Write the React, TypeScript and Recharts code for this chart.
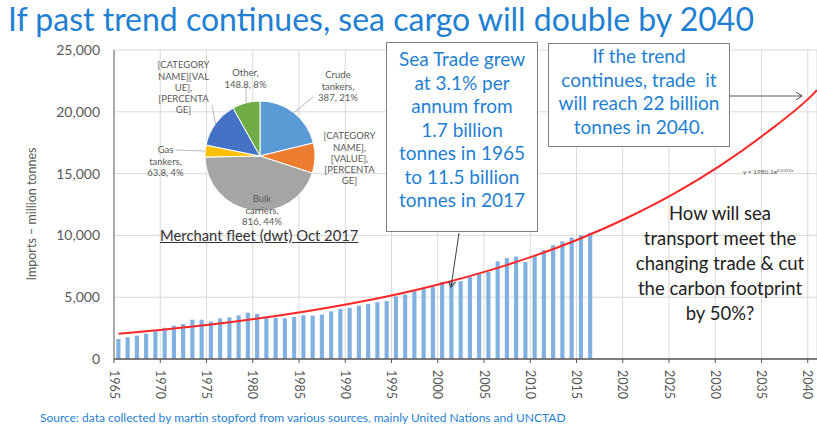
import { Bar, CartesianGrid, Cell, ComposedChart, Line, Pie, PieChart, XAxis, YAxis } from "recharts";

// Seaborne imports, million tonnes
const years = [
  1965, 1966, 1967, 1968, 1969, 1970, 1971, 1972, 1973, 1974, 1975, 1976, 1977,
  1978, 1979, 1980, 1981, 1982, 1983, 1984, 1985, 1986, 1987, 1988, 1989, 1990,
  1991, 1992, 1993, 1994, 1995, 1996, 1997, 1998, 1999, 2000, 2001, 2002, 2003,
  2004, 2005, 2006, 2007, 2008, 2009, 2010, 2011, 2012, 2013, 2014, 2015, 2016
];
const seaTrade = [
  1620, 1750, 1890, 2050, 2240, 2530, 2700, 2830, 3180, 3180, 3020, 3290, 3370,
  3530, 3750, 3640, 3400, 3340, 3290, 3400, 3530, 3510, 3590, 3860, 4050, 4130,
  4310, 4460, 4600, 4680, 5070, 5220, 5490, 5660, 5850, 6240, 6240, 6300, 6630,
  6870, 7050, 7900, 8160, 8290, 7860, 8360, 8800, 9210, 9520, 9830, 10020, 10220
];

// exponential trend line, read at category centres out to the right edge
const trendX = [1965.5, 1970.5, 1975.5, 1980.5, 1985.5, 1990.5, 1995.5, 2000.5, 2005.5, 2010.5, 2015.5, 2020.5, 2025.5, 2030.5, 2035.5, 2040.5, 2041];
const trendValues = [2040, 2390, 2790, 3270, 3820, 4470, 5220, 6110, 7150, 8360, 9770, 11430, 13360, 15630, 18280, 21370, 21750];

const xTicks = [1965, 1970, 1975, 1980, 1985, 1990, 1995, 2000, 2005, 2010, 2015, 2020, 2025, 2030, 2035, 2040];
const yTicks = [0, 5000, 10000, 15000, 20000, 25000];

// merchant fleet pie, million dwt
const fleetNames = ["Crude tankers", "[CATEGORY NAME]", "Bulk carriers", "Gas tankers", "[CATEGORY NAME]", "Other"];
const fleetValues = [387, 162, 816, 63.8, 250, 148.8];
const fleetLabels = [
  ["Crude", "tankers,", "387, 21%"],
  ["[CATEGORY", "NAME],", "[VALUE],", "[PERCENTA", "GE]"],
  ["Bulk", "carriers,", "816, 44%"],
  ["Gas", "tankers,", "63.8, 4%"],
  ["[CATEGORY", "NAME][VAL", "UE],", "[PERCENTA", "GE]"],
  ["Other,", "148.8, 8%"]
];
const fleetColors = ["#5b9bd5", "#ed7d31", "#a5a5a5", "#ffc000", "#4472c4", "#70ad47"];

// label placement relative to the pie centre (first line centre, leader end)
const labelLayout: { dx: number; dy: number; lead?: [number, number] }[] = [
  { dx: 78, dy: -81, lead: [53, -59] },
  { dx: 89.5, dy: -20 },
  { dx: 2, dy: 43 },
  { dx: -94.5, dy: -6, lead: [-84, -6] },
  { dx: -76.5, dy: -91, lead: [-48, -51] },
  { dx: -14.5, dy: -83, lead: [-14, -70] }
];

const barData = years.map((year, i) => ({ pos: year + 0.5, trade: seaTrade[i] }));
const trendData = trendX.map((pos, i) => ({ pos, trend: trendValues[i] }));
const fleetData = fleetNames.map((name, i) => ({ name, value: fleetValues[i] }));

const FONT = "Lato, 'Open Sans', sans-serif";
const BLUE = "#1f7fd3";
const RAD = Math.PI / 180;

function YearTick({ x, y, payload }: any) {
  return (
    <text
      x={x}
      y={y}
      dy="0.35em"
      transform={`rotate(90, ${x}, ${y})`}
      textAnchor="start"
      fill="#595959"
      fontSize={12.5}
      fontFamily={FONT}
    >
      {payload.value}
    </text>
  );
}

function renderFleetLabel({ cx, cy, midAngle, outerRadius, index }: any) {
  const layout = labelLayout[index];
  const lines = fleetLabels[index];
  const edgeX = cx + outerRadius * Math.cos(-midAngle * RAD);
  const edgeY = cy + outerRadius * Math.sin(-midAngle * RAD);
  return (
    <g key={`fleet-label-${index}`}>
      {layout.lead && (
        <line x1={edgeX} y1={edgeY} x2={cx + layout.lead[0]} y2={cy + layout.lead[1]} stroke="#a6a6a6" strokeWidth={0.8} />
      )}
      {lines.map((line, j) => (
        <text
          key={j}
          x={cx + layout.dx}
          y={cy + layout.dy + j * 11.2}
          dy="0.35em"
          textAnchor="middle"
          fill="#595959"
          fontSize={9.5}
          fontFamily={FONT}
        >
          {line}
        </text>
      ))}
    </g>
  );
}

export default function App() {
  return (
    <div style={{ position: "absolute", left: 0, top: 0, width: 817, height: 428, background: "#fff", overflow: "hidden", fontFamily: FONT }}>
      <ComposedChart width={817} height={428} data={barData} margin={{ top: 50, right: 0, bottom: 0, left: 0 }}>
        <CartesianGrid stroke="#d9d9d9" />
        <XAxis
          type="number"
          dataKey="pos"
          domain={[1965, 2041]}
          ticks={xTicks}
          interval={0}
          allowDataOverflow
          height={69}
          tick={<YearTick />}
          tickSize={4}
          tickMargin={7}
          tickLine={{ stroke: "#595959" }}
          axisLine={{ stroke: "#595959", strokeWidth: 1.5 }}
        />
        <YAxis
          domain={[0, 25000]}
          ticks={yTicks}
          width={114}
          tickLine={false}
          tickSize={6}
          tickMargin={8}
          tick={{ fill: "#595959", fontSize: 14, fontFamily: FONT }}
          tickFormatter={(value: number) => value.toLocaleString("en-US")}
          axisLine={{ stroke: "#7f7f7f", strokeWidth: 1.2 }}
        />
        <Bar dataKey="trade" fill="#80b1e2" barSize={7} isAnimationActive={false} />
        <Line data={trendData} dataKey="trend" type="monotone" stroke="#ff2626" strokeWidth={2} dot={false} isAnimationActive={false} />
      </ComposedChart>

      <div style={{ position: "absolute", left: 130, top: 50 }}>
        <PieChart width={250} height={200} margin={{ top: 0, right: 0, bottom: 0, left: 0 }}>
          <Pie
            data={fleetData}
            dataKey="value"
            nameKey="name"
            cx={130}
            cy={106}
            outerRadius={55}
            startAngle={90}
            endAngle={-270}
            stroke="#fff"
            strokeWidth={1}
            label={renderFleetLabel}
            labelLine={false}
            isAnimationActive={false}
          >
            {fleetData.map((entry, i) => (
              <Cell key={entry.name + i} fill={fleetColors[i]} />
            ))}
          </Pie>
        </PieChart>
      </div>

      <div style={{ position: "absolute", left: 160, top: 226, fontSize: 14.8, color: "#333", textDecoration: "underline", whiteSpace: "nowrap" }}>
        Merchant fleet (dwt) Oct 2017
      </div>

      <div style={{ position: "absolute", left: 8, top: -1, fontSize: 32, color: BLUE, whiteSpace: "nowrap" }}>
        If past trend continues, sea cargo will double by 2040
      </div>

      <div
        style={{
          position: "absolute",
          left: 386,
          top: 42,
          width: 152,
          height: 190,
          boxSizing: "border-box",
          border: "1.5px solid #7f7f7f",
          background: "#fff",
          color: BLUE,
          fontSize: 19,
          lineHeight: "23.5px",
          textAlign: "center",
          paddingTop: 4
        }}
      >
        Sea Trade grew
        <br />
        at 3.1% per
        <br />
        annum from
        <br />
        1.7 billion
        <br />
        tonnes in 1965
        <br />
        to 11.5 billion
        <br />
        tonnes in 2017
      </div>

      <div
        style={{
          position: "absolute",
          left: 548,
          top: 43,
          width: 182,
          height: 104,
          boxSizing: "border-box",
          border: "1.5px solid #7f7f7f",
          background: "#fff",
          color: BLUE,
          fontSize: 19,
          lineHeight: "23.7px",
          textAlign: "center",
          whiteSpace: "pre"
        }}
      >
        {"If the trend\ncontinues, trade  it\nwill reach 22 billion\ntonnes in 2040."}
      </div>

      <div style={{ position: "absolute", left: 610, top: 201, width: 220, fontSize: 18.5, lineHeight: "25px", color: "#222", textAlign: "center" }}>
        How will sea
        <br />
        transport meet the
        <br />
        changing trade &amp; cut
        <br />
        the carbon footprint
        <br />
        by 50%?
      </div>

      <div style={{ position: "absolute", left: 40, top: 410, fontSize: 12, color: BLUE, whiteSpace: "nowrap" }}>
        Source: data collected by martin stopford from various sources, mainly United Nations and UNCTAD
      </div>

      <svg width={817} height={428} style={{ position: "absolute", left: 0, top: 0, pointerEvents: "none" }}>
        <defs>
          <marker id="open-arrow" markerWidth={8} markerHeight={8} refX={6} refY={4} orient="auto" markerUnits="userSpaceOnUse">
            <path d="M0,0 L6,4 L0,8" fill="none" stroke="#404040" strokeWidth={1} />
          </marker>
        </defs>
        <line x1={459} y1={233} x2={451} y2={287} stroke="#404040" strokeWidth={1} markerEnd="url(#open-arrow)" />
        <line x1={730} y1={96} x2={802} y2={96} stroke="#595959" strokeWidth={1} markerEnd="url(#open-arrow)" />
        <text x={31} y={214} transform="rotate(-90, 31, 214)" textAnchor="middle" dominantBaseline="central" fill="#595959" fontSize={12.5} fontFamily={FONT}>
          Imports – million tonnes
        </text>
        <text x={743} y={174} fill="#595959" fontSize={6.5} fontFamily={FONT}>
          y = 1980.1e
          <tspan dy={-2.5} fontSize={4.5}>0.0313x</tspan>
        </text>
      </svg>
    </div>
  );
}
